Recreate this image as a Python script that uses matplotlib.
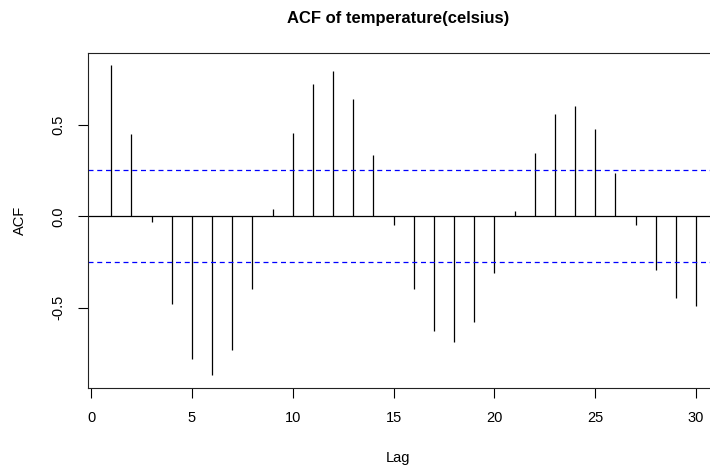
import matplotlib
matplotlib.use("Agg")
import matplotlib.pyplot as plt
import numpy as np

# ACF values, lags 1..30
lags = list(range(1, 31))
acf_vals = [0.828, 0.449, -0.033, -0.482, -0.783, -0.870, -0.732, -0.400, 0.038, 0.454,
            0.724, 0.794, 0.644, 0.337, -0.048, -0.400, -0.628, -0.690, -0.579, -0.309,
            0.029, 0.346, 0.562, 0.602, 0.476, 0.237, -0.046, -0.292, -0.449, -0.489]
conf = 0.252  # 1.96 / sqrt(n)
x_ticks = [0, 5, 10, 15, 20, 25, 30]
y_ticks = [-0.5, 0.0, 0.5]

plt.rcParams['font.family'] = ['Liberation Sans', 'DejaVu Sans']

W, H = 710, 469
fig = plt.figure(figsize=(W / 100, H / 100), dpi=100)
left, right, top, bottom = 87.7, 714, 53.5, 387.7
ax = fig.add_axes([left / W, 1 - bottom / H, (right - left) / W, (bottom - top) / H])

ax.vlines(lags, 0, acf_vals, color='black', linewidth=0.9)
ax.axhline(0, color='black', linewidth=0.9)
for c in (conf, -conf):
    ax.axhline(c, color='blue', linewidth=0.9, linestyle=(0, (4, 3)))

ax.set_xlim(-0.164, 30.89)
ax.set_ylim(-0.938, 0.891)

ax.set_xticks(x_ticks)
ax.set_xticklabels([str(t) for t in x_ticks])
ax.set_yticks(y_ticks)
ax.set_yticklabels(['-0.5', '0.0', '0.5'], rotation=90, va='center')
ax.tick_params(direction='out', length=7, width=0.8, labelsize=10.5, color='black')
ax.tick_params(axis='x', pad=10)
ax.tick_params(axis='y', pad=9)
for s in ax.spines.values():
    s.set_linewidth(0.8)
    s.set_color('#222222')

ax.set_xlabel('Lag', fontsize=10.5)
ax.set_ylabel('ACF', fontsize=10.5)
ax.xaxis.set_label_coords((398 - left) / (right - left), -(458 - bottom) / (bottom - top))
ax.yaxis.set_label_coords(-(left - 20) / (right - left), 0.5)
ax.xaxis.label.set_va('center')
ax.yaxis.label.set_va('center')

fig.text(398 / W, 1 - 18 / H, 'ACF of temperature(celsius)', ha='center', va='center',
         fontsize=12, fontweight='bold')

fig.savefig('out.png', dpi=100)
